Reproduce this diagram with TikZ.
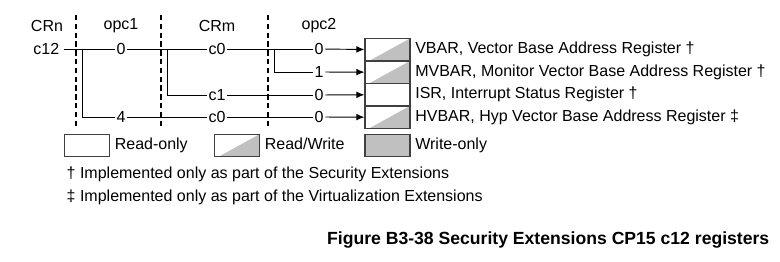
\documentclass[tikz,border=0pt]{standalone}
\usepackage{fontspec}
\setmainfont{Liberation Sans}
\usepackage{tikz}
\usetikzlibrary{arrows.meta}
\definecolor{regfill}{HTML}{C0C0C0}
\definecolor{regline}{HTML}{404040}

\tikzset{
  reg/.style={draw=regline, line width=0.9pt, minimum width=33.75pt, minimum height=16.9pt, inner sep=0pt},
  rw/.style={path picture={\fill[regfill] ([xshift=3pt]path picture bounding box.south west) -- (path picture bounding box.north east) -- (path picture bounding box.south east) -- cycle;}},
  wo/.style={fill=regfill},
  lbl/.style={inner sep=1.2pt},
  txt/.style={anchor=west, text height=1.6ex, text depth=0.4ex},
  sep/.style={line width=1.3pt, dash pattern=on 4pt off 2.6pt},
  conn/.style={line width=0.7pt},
  arr/.style={conn, -{Latex[length=6pt,width=5pt]}}
}

\begin{document}
\begin{tikzpicture}[x=0.75pt, y=-0.75pt, font=\fontsize{12}{14}\selectfont]
  \useasboundingbox (0,0) rectangle (780,261);
  % Field headings and separators
  \node (crn) at (47,26) {CRn};
  \node (opc1) at (121,26) {opc1};
  \node (crm) at (217,26) {CRm};
  \node (opc2) at (319,26) {opc2};
  \draw[sep] (76,15) -- (76,128);
  \draw[sep] (161,15) -- (161,128);
  \draw[sep] (268,15) -- (268,128);
  % Encoding labels
  \node[anchor=east] (c12) at (64,49) {c12};
  \node[lbl] (opa) at (121,49) {0};
  \node[lbl] (crma) at (217,49) {c0};
  \node[lbl] (opca) at (319,49) {0};
  \node[lbl] (opcb) at (319,72) {1};
  \node[lbl] (crmc) at (217,95) {c1};
  \node[lbl] (opcc) at (319,95) {0};
  \node[lbl] (opd) at (121,117) {4};
  \node[lbl] (crmd) at (217,117) {c0};
  \node[lbl] (opcd) at (319,117) {0};
  \coordinate (bra) at (82,49);
  \coordinate (brb) at (167,49);
  \coordinate (brc) at (274,49);
  % Registers
  \node[reg, rw] (vbar) at (387.5,49.7) {};
  \node[reg, rw] (mvbar) at (387.5,72.2) {};
  \node[reg] (isr) at (387.5,94.7) {};
  \node[reg, rw] (hvbar) at (387.5,117.2) {};
  \node[txt] at (vbar.east) {VBAR, Vector Base Address Register †};
  \node[txt] at (mvbar.east) {MVBAR, Monitor Vector Base Address Register †};
  \node[txt] at (isr.east) {ISR, Interrupt Status Register †};
  \node[txt] at (hvbar.east) {HVBAR, Hyp Vector Base Address Register ‡};
  % Connectors
  \draw[conn] (c12) -- (opa) -- (crma) -- (opca);
  \draw[arr] (opca) -- (vbar);
  \draw[conn] (bra) |- (opd);
  \draw[conn] (opd) -- (crmd) -- (opcd);
  \draw[arr] (opcd) -- (hvbar);
  \draw[conn] (brb) |- (crmc);
  \draw[conn] (crmc) -- (opcc);
  \draw[arr] (opcc) -- (isr);
  \draw[conn] (brc) |- (opcb);
  \draw[arr] (opcb) -- (mvbar);
  % Key
  \node[reg] (ro) at (87,145.5) {};
  \node[txt] at (ro.east) {Read-only};
  \node[reg, rw] (rwk) at (237,145.5) {};
  \node[txt] at (rwk.east) {Read/Write};
  \node[reg, wo] (wok) at (387.5,145.5) {};
  \node[txt] at (wok.east) {Write-only};
  \node[txt] (fna) at (62,174) {† Implemented only as part of the Security Extensions};
  \node[txt] (fnb) at (62,197) {‡ Implemented only as part of the Virtualization Extensions};
  % Caption
  \node[anchor=east, font=\fontsize{13.2}{15}\selectfont\bfseries] (cap) at (774,240) {Figure B3-38 Security Extensions CP15 c12 registers};
\end{tikzpicture}
\end{document}
